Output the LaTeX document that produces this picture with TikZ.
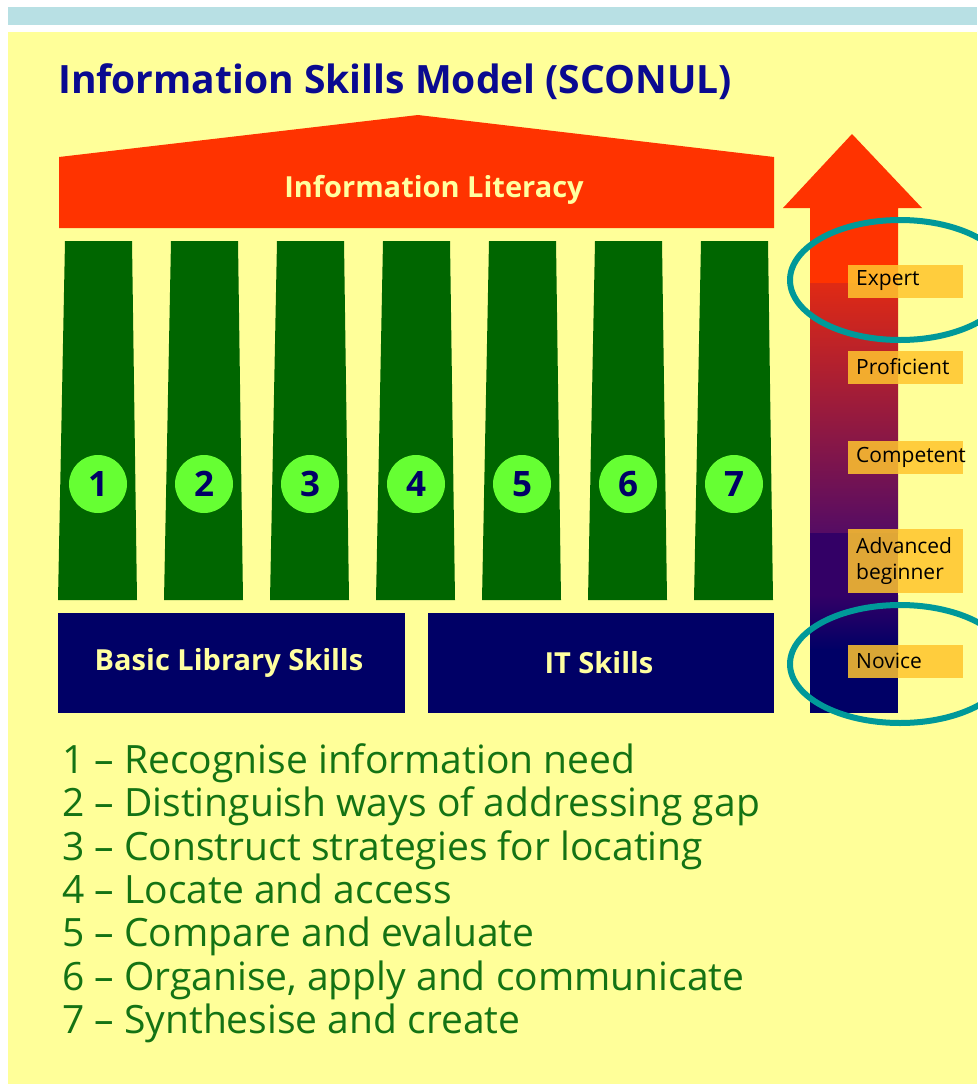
\documentclass[tikz,border=0pt]{standalone}
\usepackage{fontspec}
\setmainfont{Open Sans}
\definecolor{panel}{HTML}{FFFF99}
\definecolor{topbar}{HTML}{B8E0E4}
\definecolor{titleblue}{HTML}{0A0A90}
\definecolor{roofred}{HTML}{FF3300}
\definecolor{shaftred}{HTML}{E02A14}
\definecolor{shaftplum}{HTML}{550C64}
\definecolor{shaftindigo}{HTML}{330066}
\definecolor{pillar}{HTML}{006600}
\definecolor{numgreen}{HTML}{66FF33}
\definecolor{navy}{HTML}{000066}
\definecolor{cream}{HTML}{FFFFA0}
\definecolor{lvlorange}{HTML}{FFC52E}
\definecolor{ring}{HTML}{009999}
\definecolor{listgreen}{HTML}{147314}
\begin{document}
\begin{tikzpicture}
  [x=1pt,y=-1pt,
   num/.style={circle,fill=numgreen,text=navy,minimum size=58pt,inner sep=0pt,
     font=\fontsize{35}{35}\selectfont\bfseries},
   level/.style={anchor=west,fill=lvlorange,fill opacity=.85,text opacity=1,
     text width=99pt,inner xsep=8pt,inner ysep=0pt,minimum height=33pt,align=left,
     font=\fontsize{21}{26}\selectfont},
   skills/.style={text=cream,font=\fontsize{29}{29}\selectfont\bfseries},
   item/.style={anchor=base west,text=listgreen,inner sep=0pt,
     font=\fontsize{39}{39}\selectfont}]
  \useasboundingbox (0,0) rectangle (977,1084);
  \fill[white] (0,0) rectangle (977,1084);
  \fill[topbar] (8,7) rectangle (977,25);
  \fill[panel] (8,32) rectangle (977,1084);

  \node[anchor=base west,text=titleblue,inner sep=0pt,
    font=\fontsize{39}{39}\selectfont\bfseries] (title) at (58,93)
    {Information Skills Model (SCONUL)};

  % roof
  \fill[roofred] (59,228) -- (59,157) -- (418,115) -- (774,157) -- (774,228) -- cycle;
  \node[skills] (roof) at (434,190) {Information Literacy};

  % pillars
  \foreach \i in {1,...,7}
    \fill[pillar] ({65+106*(\i-1)},241) -- ({132+106*(\i-1)},241)
      -- ({137+106*(\i-1)},600) -- ({58+106*(\i-1)},600) -- cycle;
  \foreach \i in {1,...,7}
    \node[num] (c\i) at ({98+106*(\i-1)},484) {\i};

  % base
  \fill[navy] (58,613) rectangle (405,713);
  \fill[navy] (428,613) rectangle (774,713);
  \node[skills] (lib) at (229,663) {Basic Library Skills};
  \node[skills] (it) at (599,663) {IT Skills};

  % arrow
  \fill[roofred] (852,134) -- (922,208) -- (898,208) -- (898,283)
    -- (810,283) -- (810,208) -- (783,208) -- cycle;
  \shade[top color=shaftred,bottom color=shaftplum] (810,283) rectangle (898,533);
  \fill[shaftindigo] (810,533) rectangle (898,596);
  \shade[top color=shaftindigo,bottom color=navy] (810,595) rectangle (898,650);
  \fill[navy] (810,649) rectangle (898,713);

  \node[level] (expert) at (848,281) {Expert};
  \node[level] (prof) at (848,367) {Proficient};
  \node[level] (comp) at (848,457) {Competent};
  \node[level,minimum height=64pt] (adv) at (848,561) {Advanced\\beginner};
  \node[level] (nov) at (848,661) {Novice};

  \draw[ring,line width=6pt] (900,280) ellipse [x radius=110,y radius=60];
  \draw[ring,line width=6pt] (900,664) ellipse [x radius=110,y radius=59];

  % list
  \node[item] (l1) at (62,773) {1 -- Recognise information need};
  \node[item] (l2) at (62,816) {2 -- Distinguish ways of addressing gap};
  \node[item] (l3) at (62,860) {3 -- Construct strategies for locating};
  \node[item] (l4) at (62,903) {4 -- Locate and access};
  \node[item] (l5) at (62,946) {5 -- Compare and evaluate};
  \node[item] (l6) at (62,990) {6 -- Organise, apply and communicate};
  \node[item] (l7) at (62,1033) {7 -- Synthesise and create};
\end{tikzpicture}
\end{document}
